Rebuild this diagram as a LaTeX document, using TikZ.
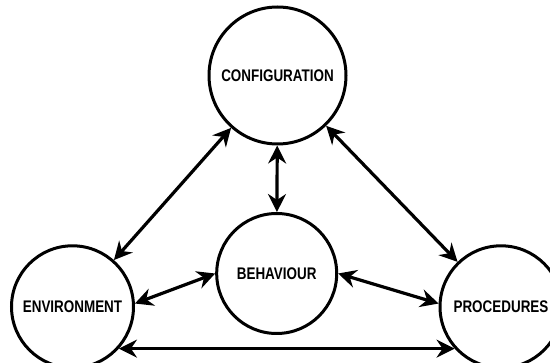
\documentclass[tikz,border=0pt]{standalone}
\usepackage{fontspec}
\newfontfamily\labelfont[FakeStretch=0.8]{Liberation Sans}
\usepackage{tikz}
\usetikzlibrary{arrows.meta}
\tikzset{
  topic/.style={draw, circle, line width=3pt, fill=white, inner sep=0pt,
    font=\labelfont\bfseries\fontsize{16.8}{20}\selectfont},
  link/.style={{Stealth[length=18pt, width=18pt, inset=6pt]}-{Stealth[length=18pt, width=18pt, inset=6pt]}, line width=3.2pt}
}

\begin{document}
\begin{tikzpicture}[x=1pt, y=-1pt]
        \useasboundingbox (0,0) rectangle (550,363);
        \clip (0,0) rectangle (550,363);

        % Topics
        \node[topic, minimum size=137pt] (config) at (277.5, 75.5) {CONFIGURATION};
        \node[topic, minimum size=120pt] (behav)  at (276.7,273.5) {BEHAVIOUR};
        \node[topic, minimum size=122pt] (env)    at ( 72.5,306.8) {ENVIRONMENT};
        \node[topic, minimum size=122pt] (proc)   at (501.0,306.8) {PROCEDURES};

        % Links
        \draw[link] (config) -- (env);
        \draw[link] (config) -- (proc);
        \draw[link] (config) -- (behav);

        \draw[link] (behav.180) -- (env.3);
        \draw[link] (behav.0) -- (proc.177);

        \draw[link] (env.318) -- (proc.222);
    \end{tikzpicture}
\end{document}
